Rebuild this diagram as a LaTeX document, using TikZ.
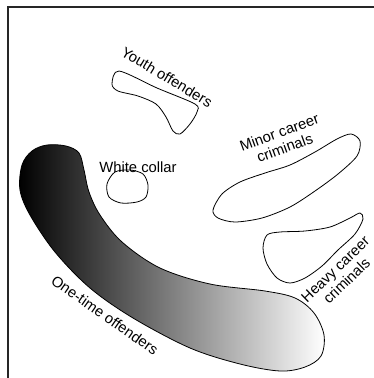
\documentclass[tikz,border=0pt]{standalone}
\usepackage{fontspec}
\setmainfont{Liberation Sans}
\usepackage{tikz}
\usetikzlibrary{calc}
\tikzset{
  zona/.style={draw=black,line width=0.8pt},
  etiq/.style={font=\fontsize{14.8}{16.2}\selectfont,align=center,inner sep=0pt},
  marco/.style={line width=1.2pt,black!85}
}

\begin{document}
\begin{tikzpicture}[x=1pt,y=-1pt]
\useasboundingbox (0,0) rectangle (374,378);
\draw[marco] (374,7) -- (8,7) -- (8,378);
% delincuentes ocasionales, con degradado
\shadedraw[zona,left color=black,right color=white] plot[smooth cycle,tension=0.55] coordinates {
  (22,165) (32,151) (47,145) (66,146) (79,153) (84,170) (89,192) (100,215)
  (122,242) (160,268) (210,284) (265,291) (295,298) (314,313) (324,335)
  (321,356) (305,367) (280,371) (240,364) (190,348) (133,318) (90,288)
  (55,252) (30,215) (20,190)};
\node[etiq,rotate=-35] (once) at (105,315) {One-time offenders};
% jovenes
\draw[zona] plot[smooth cycle,tension=0.5] coordinates {
  (119,71) (112,84) (118,91) (138,96) (156,104) (166,117) (173,131)
  (180,134) (190,124) (197,112) (195,104) (157,88)};
\node[etiq,rotate=-31] (youth) at (167,77) {Youth offenders};
% cuello blanco
\draw[zona] plot[smooth cycle] coordinates {
  (107,184) (115,172) (130,170) (143,174) (148,185) (146,197) (137,202)
  (121,203) (109,197)};
\node[etiq] (collar) at (138,167) {White collar};
% carrera menor
\draw[zona] plot[smooth cycle] coordinates {
  (213,210) (222,194) (240,182) (265,173) (290,165) (315,152) (337,139)
  (351,134) (360,141) (357,156) (338,174) (315,191) (290,207) (262,218)
  (235,222) (218,218)};
\node[etiq,rotate=20] (minor) at (282,140) {Minor career\\criminals};
% carrera grave
\draw[zona] plot[smooth cycle] coordinates {
  (267,235) (280,232) (305,231) (330,227) (350,218) (360,213) (363,219)
  (355,234) (338,250) (322,266) (305,278) (290,283) (277,278) (267,264)
  (263,248)};
\node[etiq,rotate=44] (heavy) at (341,275) {Heavy career\\criminals};
\end{tikzpicture}
\end{document}
